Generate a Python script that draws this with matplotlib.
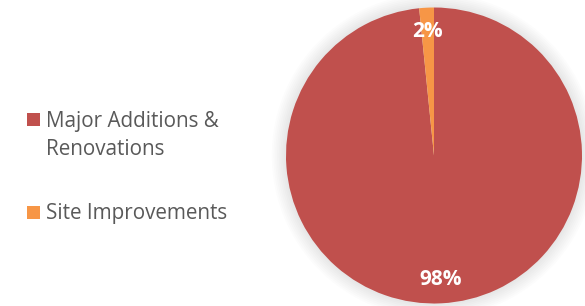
import matplotlib.pyplot as plt
from matplotlib.patches import Circle, Rectangle

categories = ['Major Additions &\nRenovations', 'Site Improvements']
values = [98.4, 1.6]
colors = ['#C0504D', '#F79646']

plt.rcParams['font.family'] = ['Open Sans', 'DejaVu Sans']

fig = plt.figure(figsize=(5.85, 3.06), dpi=100)
W, H = 585, 306

# pie axes: center (434, 155.5), radius 148 px
cx, cy, r = 434, 155.5, 148
pad = 1.12
ax = fig.add_axes([(cx - r * pad) / W, 1 - (cy + r * pad) / H, 2 * r * pad / W, 2 * r * pad / H])
ax.set_aspect('equal')
ax.axis('off')

# soft shadow around the pie
for k in range(8, 0, -1):
    ax.add_patch(Circle((0, 0), 1 + k * 0.012, color='#808080', alpha=0.022, lw=0, zorder=0))

wedges, texts, autotexts = ax.pie(
    values, colors=colors, startangle=90, counterclock=False,
    autopct=lambda p: f'{p:.0f}%', pctdistance=0.84,
    wedgeprops=dict(linewidth=0), textprops=dict(color='white', fontsize=15, fontweight='bold'),
    radius=1, frame=False)
ax.set_xlim(-pad, pad)
ax.set_ylim(-pad, pad)

# legend on the left
text_color = '#595959'
rows = [(155, 113), (219, 206)]  # last-line baseline y, square top y (pixels)
for lab, col, (base, sq) in zip(categories, colors, rows):
    fig.add_artist(Rectangle((27 / W, 1 - (sq + 13) / H), 13 / W, 13 / H,
                             transform=fig.transFigure, color=col, lw=0))
    fig.text(46 / W, 1 - base / H, lab, fontsize=14.9, color=text_color,
             ha='left', va='baseline', linespacing=1.42)

fig.savefig('out.png', dpi=100)
